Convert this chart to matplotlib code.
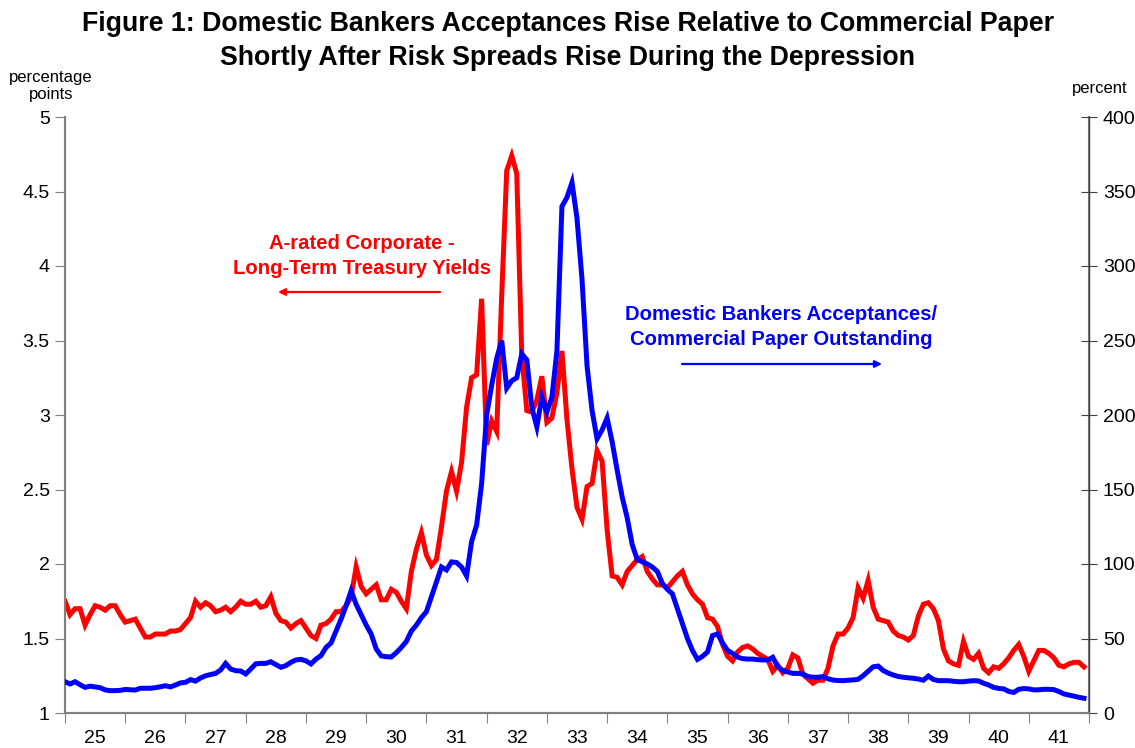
import numpy as np
import matplotlib
matplotlib.use('Agg')
import matplotlib.pyplot as plt

plt.rcParams['font.family'] = ['Liberation Sans', 'DejaVu Sans']

# monthly data, Jan 1925 - Dec 1941
year_labels = ['25', '26', '27', '28', '29', '30', '31', '32', '33',
               '34', '35', '36', '37', '38', '39', '40', '41']

# A-rated corporate minus long-term treasury yields (percentage points)
spread = [
    1.75, 1.66, 1.70, 1.70, 1.59, 1.66, 1.72, 1.71, 1.69, 1.72, 1.72, 1.66,
    1.61, 1.62, 1.63, 1.57, 1.51, 1.51, 1.53, 1.53, 1.53, 1.55, 1.55, 1.56,
    1.60, 1.64, 1.75, 1.71, 1.74, 1.72, 1.68, 1.69, 1.71, 1.68, 1.71, 1.75,
    1.73, 1.73, 1.75, 1.71, 1.72, 1.78, 1.67, 1.62, 1.61, 1.57, 1.60, 1.62,
    1.57, 1.52, 1.50, 1.59, 1.60, 1.63, 1.68, 1.68, 1.72, 1.78, 1.98, 1.85,
    1.80, 1.83, 1.86, 1.76, 1.76, 1.83, 1.81, 1.75, 1.70, 1.95, 2.10, 2.21,
    2.06, 1.99, 2.03, 2.25, 2.49, 2.62, 2.49, 2.68, 3.05, 3.25, 3.27, 3.78,
    2.80, 2.96, 2.89, 3.80, 4.64, 4.74, 4.62, 3.40, 3.03, 3.02, 3.10, 3.26,
    2.95, 2.98, 3.15, 3.43, 2.97, 2.64, 2.38, 2.30, 2.52, 2.54, 2.76, 2.69,
    2.23, 1.92, 1.91, 1.86, 1.95, 1.99, 2.03, 2.05, 1.95, 1.90, 1.86, 1.86,
    1.84, 1.88, 1.92, 1.95, 1.86, 1.80, 1.76, 1.73, 1.64, 1.63, 1.58, 1.46,
    1.38, 1.35, 1.41, 1.44, 1.45, 1.43, 1.40, 1.38, 1.36, 1.28, 1.32, 1.27,
    1.30, 1.39, 1.37, 1.26, 1.23, 1.20, 1.22, 1.22, 1.30, 1.45, 1.53, 1.53,
    1.57, 1.64, 1.84, 1.77, 1.89, 1.71, 1.63, 1.62, 1.61, 1.55, 1.52, 1.51,
    1.49, 1.52, 1.65, 1.73, 1.74, 1.70, 1.62, 1.43, 1.35, 1.33, 1.32, 1.48,
    1.38, 1.36, 1.40, 1.30, 1.27, 1.31, 1.30, 1.33, 1.37, 1.42, 1.46, 1.38,
    1.28, 1.35, 1.42, 1.42, 1.40, 1.37, 1.32, 1.31, 1.33, 1.34, 1.34, 1.31,
]

# domestic bankers acceptances / commercial paper outstanding (percent)
ba_cp = [
    21, 19.5, 21, 19, 17.2, 18, 17.5, 17, 15.5, 15, 15, 15.2,
    15.8, 15.6, 15.4, 16.6, 16.6, 16.6, 17, 17.6, 18.3, 17.5, 18.8, 20.2,
    20.6, 22.4, 21.4, 23.5, 25, 25.8, 26.6, 28.9, 33.3, 29.5, 28.4, 28.2,
    26.2, 29.5, 33, 33.3, 33.3, 34.4, 32.5, 30.7, 31.8, 34, 35.6, 36,
    35, 32.9, 36.2, 38.5, 44, 47, 55, 63, 72, 82, 73, 66,
    59, 53, 43, 38.3, 37.8, 37.6, 40.5, 44, 48, 55, 59, 64,
    68, 78, 88, 98, 96, 101.4, 101, 98, 92, 115, 126, 154,
    200, 220, 238, 250, 218, 223, 225, 241, 237, 205, 192, 212,
    202, 212, 243, 340, 346, 356, 332, 291, 233, 203, 184, 190,
    198, 182, 163, 145, 131, 113, 103, 101.5, 100, 98, 95, 87,
    83, 80, 70, 60, 50, 42, 36, 38, 41, 52, 53, 47,
    42, 40, 37.5, 36.5, 36.2, 36.2, 35.8, 35.6, 35.6, 37.4, 31, 28.5,
    27.5, 26.6, 26.6, 26.2, 24.5, 24, 24, 24.4, 23, 22.1, 21.8, 21.7,
    22, 22.2, 22.6, 25, 28, 31, 31.5, 28.5, 26.8, 25.5, 24.5, 24,
    23.6, 23.3, 22.8, 22, 24.8, 22.5, 21.7, 21.7, 21.7, 21.3, 21, 21,
    21.4, 21.7, 21.5, 20, 18.8, 17.2, 16.5, 16.2, 14.5, 13.8, 15.9, 16.4,
    16.2, 15.5, 15.6, 15.9, 15.9, 15.7, 14.4, 12.8, 12, 11.3, 10.5, 9.9,
]

W, H = 1135, 748


def fpx(x, y):
    '''pixel position -> figure fraction'''
    return (x / W, 1 - y / H)


fig = plt.figure(figsize=(W / 100, H / 100), dpi=100)
ax = fig.add_axes([65 / W, 1 - 713 / H, (1089 - 65) / W, (713 - 117) / H])
ax2 = ax.twinx()

months = np.arange(len(spread))
ax.plot(months, spread, color='#ff0000', lw=3.6, solid_joinstyle='miter', zorder=3)
ax2.plot(months, ba_cp, color='#0000ff', lw=3.6, solid_joinstyle='miter', zorder=3)

# cosmetics
spine_col = '#808080'
ax.set_xlim(0, len(spread) - 1)
ax.set_ylim(1, 5)
ax2.set_ylim(0, 400)
ax.set_yticks([1, 1.5, 2, 2.5, 3, 3.5, 4, 4.5, 5])
ax.set_yticklabels(['1', '1.5', '2', '2.5', '3', '3.5', '4', '4.5', '5'])
ax2.set_yticks(np.arange(0, 401, 50))

ax.set_xticks(np.arange(0, len(spread) + 1, 12))
ax.set_xticklabels([])
ax.set_xticks(np.arange(6, len(spread), 12), minor=True)
ax.set_xticklabels(year_labels, minor=True)
ax.tick_params(axis='x', which='major', direction='out', length=7, color=spine_col)
ax.tick_params(axis='x', which='minor', length=0, pad=12, labelsize=14)
ax.tick_params(axis='y', direction='out', length=7, color=spine_col, labelsize=14, pad=4)
ax2.tick_params(axis='y', direction='inout', length=12, color='#404040', labelsize=14, pad=4)

for a in (ax, ax2):
    a.spines['top'].set_visible(False)
    for s in ('left', 'right', 'bottom'):
        a.spines[s].set_color(spine_col)
        a.spines[s].set_linewidth(1.5)
ax2.spines['right'].set_color('#404040')
ax2.spines['right'].set_linewidth(1.0)

# titles and axis captions
fig.text(*fpx(568, 24), 'Figure 1: Domestic Bankers Acceptances Rise Relative to Commercial Paper',
         ha='center', va='center', fontsize=19.3, fontweight='bold')
fig.text(*fpx(568, 58), 'Shortly After Risk Spreads Rise During the Depression',
         ha='center', va='center', fontsize=19.3, fontweight='bold')
fig.text(*fpx(51, 86), 'percentage\npoints', ha='center', va='center',
         fontsize=12, linespacing=1.15)
fig.text(*fpx(1100, 88), 'percent', ha='center', va='center', fontsize=12)

# series labels with arrows
fig.text(*fpx(362, 256), 'A-rated Corporate -\nLong-Term Treasury Yields',
         ha='center', va='center', color='#ff0000', fontsize=14.6,
         fontweight='bold', linespacing=1.45)
ax.annotate('', xy=fpx(278, 292), xytext=fpx(440, 292),
            xycoords='figure fraction', textcoords='figure fraction',
            arrowprops=dict(arrowstyle='-|>', color='#ff0000', lw=1.6,
                            mutation_scale=10, shrinkA=0, shrinkB=0))

fig.text(*fpx(781, 327), 'Domestic Bankers Acceptances/\nCommercial Paper Outstanding',
         ha='center', va='center', color='#0000ff', fontsize=14.6,
         fontweight='bold', linespacing=1.45)
ax.annotate('', xy=fpx(882, 364), xytext=fpx(682, 364),
            xycoords='figure fraction', textcoords='figure fraction',
            arrowprops=dict(arrowstyle='-|>', color='#0000ff', lw=1.6,
                            mutation_scale=10, shrinkA=0, shrinkB=0))

fig.savefig('out.png', dpi=100)
plt.close(fig)
